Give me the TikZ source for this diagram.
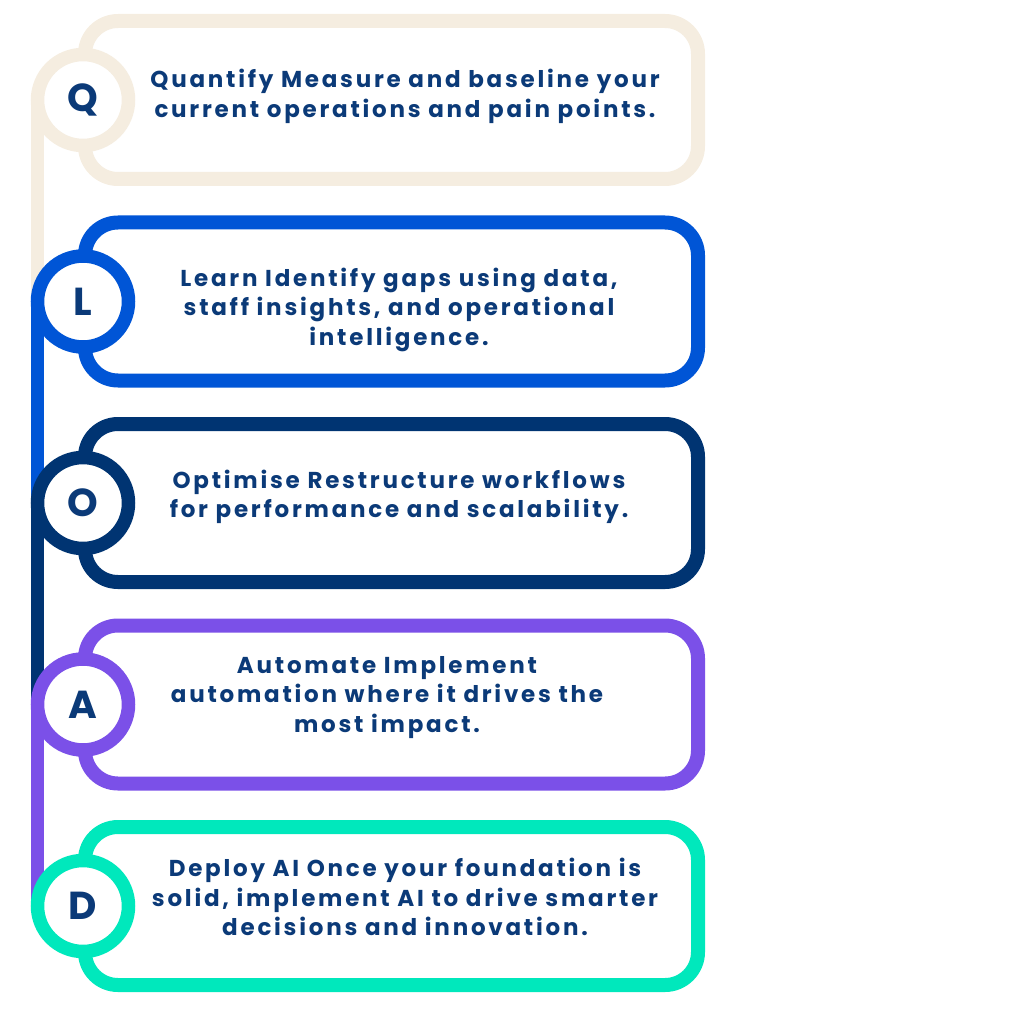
\documentclass[tikz,border=0pt]{standalone}
\usepackage{fontspec}
\setmainfont{Poppins}[LetterSpace=12]
\newfontfamily\badgefont{Poppins}
\usetikzlibrary{positioning}
\pgfdeclarelayer{bg}
\pgfsetlayers{bg,main}
\definecolor{cbeige}{HTML}{F5EDE0}
\definecolor{cblue}{HTML}{0055D6}
\definecolor{cnavy}{HTML}{003472}
\definecolor{cpurple}{HTML}{7B50E8}
\definecolor{cteal}{HTML}{00E8BC}
\definecolor{ctext}{HTML}{0B3A78}
\tikzset{
  stepcard/.style={draw=#1, line width=14pt, rounded corners=33pt, fill=white,
    minimum width=613pt, minimum height=158pt, inner sep=0pt, outer sep=0pt},
  badge/.style={circle, draw=#1, line width=13.5pt, fill=white, minimum size=91pt,
    inner sep=0pt, outer sep=0pt, text=ctext, font=\badgefont\fontsize{39}{39}\selectfont\bfseries},
  rail/.style={draw=#1, line width=13.5pt},
  cardtext/.style={text=ctext, align=center, inner sep=0pt,
    font=\fontsize{23}{29.5}\selectfont\bfseries}
}
\begin{document}
\begin{tikzpicture}[x=1pt,y=-1pt]
\useasboundingbox (0,0) rectangle (1024,1024);
% cards
\node[stepcard=cbeige]  (c1) at (391.5,100)   {};
\node[stepcard=cblue]   (c2) at (391.5,301.5) {};
\node[stepcard=cnavy]   (c3) at (391.5,503)   {};
\node[stepcard=cpurple] (c4) at (391.5,704.5) {};
\node[stepcard=cteal]   (c5) at (391.5,906)   {};
% badges
\node[badge=cbeige]  (bq) at (83,100)   {Q};
\node[badge=cblue]   (bl) at (83,301.5) {L};
\node[badge=cnavy]   (bo) at (83,503)   {O};
\node[badge=cpurple] (ba) at (83,704.5) {A};
\node[badge=cteal]   (bd) at (83,906)   {D};
% rails
\begin{pgfonlayer}{bg}
\draw[rail=cbeige]  (bq.west) -- (bl.west);
\draw[rail=cblue]   (bl.west) -- (bo.west);
\draw[rail=cnavy]   (bo.west) -- (ba.west);
\draw[rail=cpurple] (ba.west) -- (bd.west);
\end{pgfonlayer}
% texts
\node[cardtext] (t1) at (405,96.5) {Quantify Measure and baseline your\\current operations and pain points.};
\node[cardtext] (t2) at (399,309.5) {Learn Identify gaps using data,\\staff insights, and operational\\intelligence.};
\node[cardtext] (t3) at (399,497) {Optimise Restructure workflows\\for performance and scalability.};
\node[cardtext] (t4) at (387,697.5) {Automate Implement\\automation where it drives the\\most impact.};
\node[cardtext] (t5) at (405,897) {Deploy AI Once your foundation is\\solid, implement AI to drive smarter\\decisions and innovation.};
\end{tikzpicture}
\end{document}
